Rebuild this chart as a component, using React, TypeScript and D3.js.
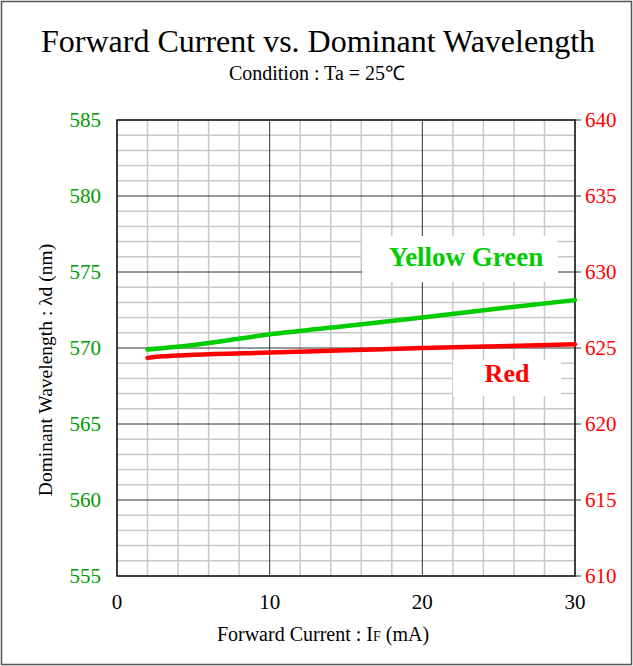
import * as d3 from 'd3';

const width = 633;
const height = 666;
const margin = { top: 120, right: 58, bottom: 90, left: 117 };

// forward current (mA)
const currentYG = [2, 5, 10, 15, 20, 25, 30];
const waveYG = [569.9, 570.2, 570.9, 571.45, 572.0, 572.6, 573.15];

const currentRed = [2, 3, 5, 10, 15, 20, 25, 30];
const waveRed = [624.35, 624.45, 624.55, 624.7, 624.85, 625.0, 625.12, 625.25];

const xTicks = [0, 10, 20, 30];
const leftTicks = [555, 560, 565, 570, 575, 580, 585];
const rightTicks = [610, 615, 620, 625, 630, 635, 640];

const font = '"Liberation Serif", "Times New Roman", serif';
const greenText = '#009900';
const greenLine = '#00cc00';
const red = '#ff0000';

export default function App() {
    const x0 = margin.left;
    const x1 = width - margin.right;
    const y0 = height - margin.bottom;
    const y1 = margin.top;

    const x = d3.scaleLinear().domain([0, 30]).range([x0, x1]);
    const yL = d3.scaleLinear().domain([555, 585]).range([y0, y1]);
    const yR = d3.scaleLinear().domain([610, 640]).range([y0, y1]);

    const minorX = d3.range(0, 31, 2).filter((v) => v % 10 !== 0);
    const minorY = d3.range(555, 586, 1).filter((v) => v % 5 !== 0);

    const lineYG = d3
        .line<number>()
        .x((_, i) => x(currentYG[i]))
        .y((d) => yL(d))
        .curve(d3.curveMonotoneX);
    const lineRed = d3
        .line<number>()
        .x((_, i) => x(currentRed[i]))
        .y((d) => yR(d))
        .curve(d3.curveMonotoneX);

    return (
        <div style={{ position: 'absolute', left: 0, top: 0 }}>
            <svg width={width} height={height} style={{ display: 'block', background: '#fff' }}>
                <rect x={1.5} y={1.5} width={width - 3} height={height - 3} fill="none" stroke="#555" strokeWidth={1.5} />

                <text x={318} y={52} textAnchor="middle" fontFamily={font} fontSize={32}>
                    Forward Current vs. Dominant Wavelength
                </text>
                <text x={317} y={80} textAnchor="middle" fontFamily={font} fontSize={20}>
                    Condition : Ta = 25℃
                </text>

                {/* minor grid */}
                {minorX.map((v) => (
                    <line key={'mx' + v} x1={x(v)} x2={x(v)} y1={y1} y2={y0} stroke="#c8c8c8" strokeWidth={1.5} />
                ))}
                {minorY.map((v) => (
                    <line key={'my' + v} x1={x0} x2={x1} y1={yL(v)} y2={yL(v)} stroke="#c8c8c8" strokeWidth={1.5} />
                ))}
                {/* major grid */}
                {xTicks.map((v) => (
                    <line key={'Mx' + v} x1={x(v)} x2={x(v)} y1={y1} y2={y0} stroke="#333" strokeWidth={1} />
                ))}
                {leftTicks.map((v) => (
                    <line key={'My' + v} x1={x0} x2={x1} y1={yL(v)} y2={yL(v)} stroke="#333" strokeWidth={1} />
                ))}
                {rightTicks.map((v) => (
                    <line key={'rt' + v} x1={x1} x2={x1 + 6} y1={yR(v)} y2={yR(v)} stroke="#333" strokeWidth={1} />
                ))}
                <rect x={x0} y={y1} width={x1 - x0} height={y0 - y1} fill="none" stroke="#222" strokeWidth={1.5} />

                {/* series labels */}
                <rect x={362} y={236} width={196} height={46} fill="#fff" />
                <text x={466} y={266} textAnchor="middle" fontFamily={font} fontSize={27} fontWeight="bold" fill={greenLine}>
                    Yellow Green
                </text>
                <rect x={453} y={360} width={108} height={36} fill="#fff" />
                <text x={507} y={382} textAnchor="middle" fontFamily={font} fontSize={26} fontWeight="bold" fill={red}>
                    Red
                </text>

                <path d={lineYG(waveYG) ?? ''} fill="none" stroke={greenLine} strokeWidth={4.5} strokeLinecap="round" />
                <path d={lineRed(waveRed) ?? ''} fill="none" stroke={red} strokeWidth={4.5} strokeLinecap="round" />

                {/* axis labels */}
                {xTicks.map((v) => (
                    <text key={'xl' + v} x={x(v)} y={609} textAnchor="middle" fontFamily={font} fontSize={21}>
                        {v}
                    </text>
                ))}
                {leftTicks.map((v) => (
                    <text key={'ll' + v} x={101} y={yL(v) + 7} textAnchor="end" fontFamily={font} fontSize={21} fill={greenText}>
                        {v}
                    </text>
                ))}
                {rightTicks.map((v) => (
                    <text key={'rl' + v} x={585} y={yR(v) + 7} textAnchor="start" fontFamily={font} fontSize={21} fill={red}>
                        {v}
                    </text>
                ))}

                <text x={323} y={641} textAnchor="middle" fontFamily={font} fontSize={20}>
                    Forward Current : I<tspan fontSize={14}>F</tspan> (mA)
                </text>
                <text
                    transform={`translate(52, 370) rotate(-90)`}
                    textAnchor="middle"
                    fontFamily={font}
                    fontSize={19.5}
                >
                    Dominant Wavelength : λd (nm)
                </text>
            </svg>
        </div>
    );
}
